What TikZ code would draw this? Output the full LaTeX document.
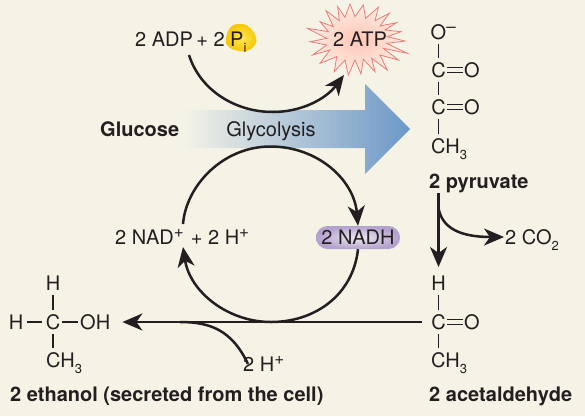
\documentclass[tikz,border=0pt]{standalone}
\usepackage{fontspec}
\setmainfont{TeX Gyre Heros}
\usetikzlibrary{arrows.meta}
\definecolor{bgc}{HTML}{F5F3E6}
\definecolor{ink}{HTML}{231F20}
\definecolor{blueA}{HTML}{6C98C8}
\definecolor{starline}{HTML}{EE7B78}
\definecolor{starin}{HTML}{FFC4B4}
\definecolor{starout}{HTML}{FDEFE4}
\definecolor{pillout}{HTML}{B3A1CE}
\definecolor{pillin}{HTML}{EDE8EF}
\definecolor{yelin}{HTML}{FFE85A}
\definecolor{yelout}{HTML}{F7C600}
\newcommand\sps[1]{\raisebox{0.36em}{\fontsize{17}{17}\selectfont #1}}
\newcommand\sbs[1]{\raisebox{-0.3em}{\fontsize{13}{13}\selectfont #1}}
\tikzset{
  lab/.style={inner sep=0pt,text height=14.4pt,text depth=0pt,text=ink,font=\fontsize{20}{22}\selectfont},
  blab/.style={lab,font=\fontsize{20}{22}\selectfont\bfseries},
  flow/.style={draw=ink,line width=2.5pt},
  flowarrow/.style={flow,-{Stealth[length=20pt,width=17pt,inset=6pt]}},
  bond/.style={draw=ink,line width=1.1pt,shorten >=4.5pt,shorten <=4.5pt},
  dbond/.style={draw=ink,line width=1.1pt,shorten >=1pt,shorten <=1pt},
}
\begin{document}
\begin{tikzpicture}[x=1pt,y=-1pt]
\useasboundingbox (0,0) rectangle (585,416);
\fill[bgc] (0,0) rectangle (585,416);
% big arrow
\shade[left color=bgc,right color=blueA]
  (183,110) -- (365,110) -- (365,84) -- (410,129) -- (365,174) -- (365,148) -- (183,148) -- cycle;
% star
\begin{scope}[shift={(300,0)},x=0.3333pt,y=-0.3333pt]
\draw[draw=starline,line width=0.8pt,inner color=starin,outer color=starout]
 (150,12)--(165,50)--(190,15)--(197,55)--(235,22)--(225,62)--(268,40)--(240,78)--(290,68)--(255,90)--(303,95)--(262,110)--(315,123)--(260,130)--(322,160)--(250,145)--(295,180)--(240,165)--(262,210)--(215,175)--(225,215)--(190,178)--(183,222)--(165,180)--(145,225)--(135,180)--(103,215)--(110,170)--(60,190)--(90,150)--(38,165)--(80,135)--(30,125)--(80,115)--(22,85)--(85,95)--(60,65)--(100,80)--(78,32)--(118,62)--(113,20)--(135,52)--cycle;
\end{scope}
% Pi blob
\shade[inner color=yelin,outer color=yelout]
  plot[smooth cycle,tension=0.8] coordinates {(226,40) (230,28) (240,24) (250,28) (256,38) (254,46) (246,51) (235,50) (228,46)};
% top labels
\node[lab,anchor=west] (adp) at (135,39) {2 ADP\,+ 2 P\sbs{i}};
\node[lab] (atp) at (360,39) {2 ATP};
\node[blab,anchor=west] (glucose) at (100,129) {Glucose};
\node[lab] (glyco) at (271,129) {Glycolysis};
\node[lab,anchor=west,inner sep=0pt] (nad) at (115,237.5) {2 NAD\sps{+}\hspace{7pt}+ 2 H\sps{+}};
\node[lab,draw=none,minimum width=84pt,minimum height=23pt,rounded corners=11.5pt,inner color=pillin,outer color=pillout] (nadh) at (358,237.5) {2 NADH};
\node[lab,anchor=west] (hplus) at (243,364) {2 H\sps{+}};
\node[lab,anchor=west] (co2) at (505,237) {2 CO\sbs{2}};
% pyruvate
\node[lab] (po) at (438.5,32) {O\rlap{\sps{–}}};
\node[lab] (pc1) at (438.5,70) {C};
\node[lab] (po1) at (472,70) {O};
\node[lab] (pc2) at (438.5,107) {C};
\node[lab] (po2) at (472,107) {O};
\node[lab,anchor=west] (pch) at (431,146) {CH\sbs{3}};
\node[blab,anchor=west] (pyr) at (429,181) {2 pyruvate};
% acetaldehyde
\node[lab] (ah) at (438.5,283) {H};
\node[lab] (ac) at (438.5,322) {C};
\node[lab] (ao) at (472,322) {O};
\node[lab,anchor=west] (ach) at (431,360) {CH\sbs{3}};
\node[blab,anchor=west] (acet) at (429,394) {2 acetaldehyde};
% ethanol
\node[lab] (eh) at (53,283) {H};
\node[lab] (ec) at (53,322) {C};
\node[lab] (el) at (16,322) {H};
\node[lab,anchor=west] (eoh) at (80,322) {OH};
\node[lab,anchor=west] (ech) at (46,360) {CH\sbs{3}};
\node[blab,anchor=west] (eth) at (10,394) {2 ethanol (secreted from the cell)};
% bonds
\draw[bond] (po) -- (pc1);
\draw[bond] (pc1) -- (pc2);
\draw[bond] (pc2.south) -- (pc2.south |- pch.north);
\foreach \a/\b in {pc1/po1,pc2/po2,ac/ao}{
  \draw[dbond] ([yshift=-2.3pt]\a.east) -- ([yshift=-2.3pt]\b.west);
  \draw[dbond] ([yshift=2.3pt]\a.east) -- ([yshift=2.3pt]\b.west);
}
\draw[bond] (ah) -- (ac);
\draw[bond] (ac.south) -- (ac.south |- ach.north);
\draw[bond] (eh) -- (ec);
\draw[bond] (ec.south) -- (ec.south |- ech.north);
\draw[bond,shorten <=4pt,shorten >=4pt] (el) -- (ec);
\draw[bond,shorten >=2pt,shorten <=2pt] (ec) -- (eoh);
% flows
\coordinate (adpout) at (189,55);
\coordinate (atpin) at (344,75);
\coordinate (nadtop) at (183,224);
\coordinate (nadbot) at (183,247);
\coordinate (hjoin) at (180,322);
\coordinate (branch) at (438.5,208);
\draw[flowarrow] (adpout) .. controls (200,90) and (235,112) .. (273,112) .. controls (300,112) and (325,100) .. (atpin);
\draw[flowarrow] (nadtop) .. controls (186,186) and (222.5,146.5) .. (270.5,146.5) .. controls (318,146.5) and (354,180) .. (nadh.north);
\draw[flowarrow] (nadh.south) .. controls (353,295) and (315,322) .. (271,322) .. controls (228,322) and (190,292) .. (nadbot);
\draw[flowarrow,shorten <=9pt,shorten >=12pt] (ac.west) -- (eoh.east |- ac.west);
\draw[flow] (hplus.north west) ++(5,7.5) .. controls (232,330) and (210,322) .. (hjoin);
\draw[flowarrow,shorten <=5pt] (ah.north |- pyr.south) -- (438.5,267);
\draw[flowarrow,shorten >=1pt] (branch) .. controls (442,228) and (460,237) .. (co2.west);
\end{tikzpicture}
\end{document}
